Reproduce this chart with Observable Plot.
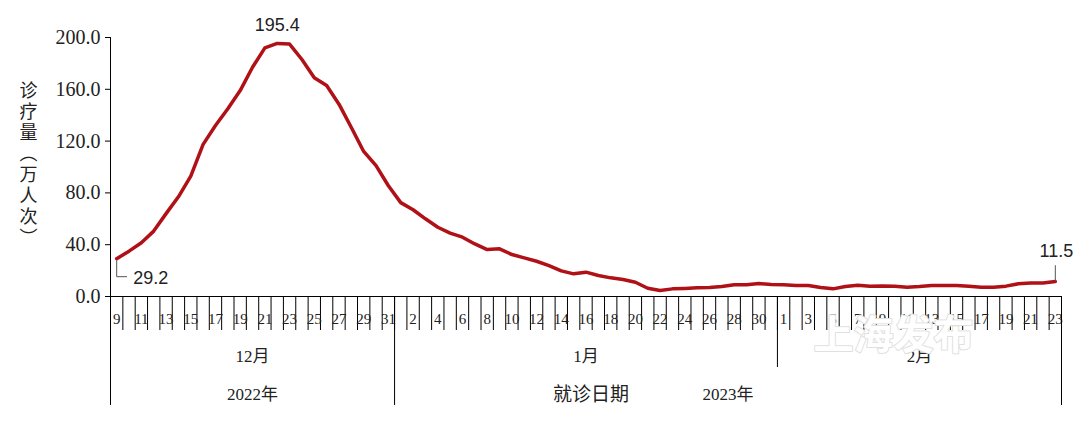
<!DOCTYPE html>
<html>
<head>
<meta charset="utf-8">
<script src="https://cdn.jsdelivr.net/npm/d3@7"></script>
<script src="https://cdn.jsdelivr.net/npm/@observablehq/plot@0.6"></script>
<style>
  html, body { margin: 0; padding: 0; background: #fff; }
  #chart { width: 1080px; height: 423px; }
</style>
</head>
<body>
<div id="chart"></div>
<script>
// ---- data ----
const days = [9,10,11,12,13,14,15,16,17,18,19,20,21,22,23,24,25,26,27,28,29,30,31,
  1,2,3,4,5,6,7,8,9,10,11,12,13,14,15,16,17,18,19,20,21,22,23,24,25,26,27,28,29,30,31,
  1,2,3,4,5,6,7,8,9,10,11,12,13,14,15,16,17,18,19,20,21,22,23];
const visits = [29.2,35.0,41.5,50.5,64.0,77.0,93.0,117.5,132.0,145.0,159.0,177.0,192.0,195.4,194.9,183.0,169.0,163.0,148.5,130.5,112.0,101.0,85.5,
  72.5,67.0,60.0,53.5,49.0,45.8,40.6,36.2,36.8,32.4,29.8,27.2,23.9,19.8,17.5,18.8,16.2,14.4,13.1,11.0,6.4,4.6,5.9,6.2,6.7,6.9,7.7,9.0,9.0,10.0,9.3,
  9.0,8.5,8.5,6.9,5.9,7.7,8.7,7.9,8.2,8.0,7.2,7.7,8.5,8.5,8.5,8.0,7.2,7.2,8.0,9.8,10.5,10.5,11.5];
const monthNames = ["12月", "1月", "2月"];
const monthLengths = [23, 31, 23];
const yearNames = ["2022年", "2023年"];
const yearMonthCounts = [1, 2];
const yTicks = [0, 40, 80, 120, 160, 200];
const yTitle = "诊疗量（万人次）";
const xTitle = "就诊日期";
const watermark = "上海发布";

// ---- derived ----
const N = visits.length;
const data = visits.map((v, i) => ({i, x: i + 0.5, v, day: days[i]}));
const monthEnds = d3.cumsum(monthLengths);                 // [23,54,77]
const monthStarts = [0, ...Array.from(monthEnds).slice(0, -1)];
const monthCenters = monthStarts.map((s, k) => s + monthLengths[k] / 2);
const yearMonthEnds = d3.cumsum(yearMonthCounts);           // [1,3]
const yearBounds = [0, ...Array.from(yearMonthEnds).map(m => monthEnds[m - 1])];
const yearCenters = yearNames.map((_, k) => (yearBounds[k] + yearBounds[k + 1]) / 2);
const monthDividers = Array.from(monthEnds).slice(0, -1).filter(b => !yearBounds.includes(b));
const dayBounds = d3.range(0, N + 1);
const dayLabelTicks = data.filter(d => d.i % 2 === 0).map(d => d.x);

const peakIdx = d3.maxIndex(visits);
const fmt = d3.format(".1f");
const first = [data[0]], peak = [data[peakIdx]], last = [data[N - 1]];

const elbow = {draw(ctx, l) { ctx.moveTo(0, -2); ctx.lineTo(0, -l); ctx.lineTo(-10, -l); }};
const stem = {draw(ctx, l) { ctx.moveTo(0, -1); ctx.lineTo(0, -l); }};

const serif = "'Liberation Serif', 'Times New Roman', 'Noto Sans CJK SC', serif";
const sans = "'Liberation Sans', 'Noto Sans CJK SC', sans-serif";
const ink = "#222";

const chart = Plot.plot({
  width: 1080,
  height: 423,
  marginLeft: 110,
  marginRight: 19,
  marginTop: 37,
  marginBottom: 127,
  style: {background: "#fff", color: ink},
  x: {type: "linear", domain: [0, N], axis: null},
  y: {domain: [0, 200], axis: null},
  marks: [
    // y axis
    Plot.axisY({ticks: yTicks, tickFormat: fmt, tickSize: 5, tickPadding: 5, fontSize: 20,
      fontFamily: serif, label: null, anchor: "left", stroke: "#000"}),
    Plot.ruleX([0], {stroke: "#000"}),
    Plot.ruleY([0], {stroke: "#000"}),
    // day separators
    Plot.axisX({ticks: dayBounds, tickSize: 34, tickFormat: () => "", label: null, stroke: "#000"}),
    // day labels
    Plot.axisX({ticks: dayLabelTicks, tickSize: 0, tickPadding: 17, label: null,
      tickFormat: d => days[Math.floor(d)], fontSize: 15, fontFamily: serif}),
    // month dividers
    Plot.axisX({ticks: monthDividers, tickSize: 71, tickFormat: () => "", label: null, stroke: "#000"}),
    // year dividers
    Plot.axisX({ticks: yearBounds, tickSize: 109, tickFormat: () => "", label: null, stroke: "#000"}),
    // month labels
    Plot.axisX({ticks: monthCenters, tickSize: 0, tickPadding: 53, label: null,
      tickFormat: d => monthNames[monthCenters.indexOf(d)], fontSize: 17, fontFamily: serif}),
    // year labels
    Plot.axisX({ticks: yearCenters, tickSize: 0, tickPadding: 91, label: null,
      tickFormat: d => yearNames[yearCenters.indexOf(d)], fontSize: 17, fontFamily: serif}),
    // axis titles
    Plot.text([xTitle], {frameAnchor: "bottom", dx: 5, dy: 104, fontSize: 19,
      fontFamily: "'Noto Sans CJK SC', sans-serif", fill: ink}),
    Plot.text([yTitle], {frameAnchor: "left", dx: -82, dy: -8, fontSize: 18,
      fontFamily: "'Noto Sans CJK SC', sans-serif", fill: ink, textAnchor: "middle"}),
    // series
    Plot.line(data, {x: "x", y: "v", stroke: "#b01116", strokeWidth: 3.5,
      strokeLinejoin: "round", strokeLinecap: "round"}),
    // leaders
    Plot.vector(first, {x: "x", y: "v", length: 18, rotate: 180, anchor: "start",
      shape: elbow, stroke: "#555", strokeWidth: 1, fill: "none"}),
    Plot.vector(last, {x: "x", y: "v", length: 16, rotate: 0, anchor: "start",
      shape: stem, stroke: "#555", strokeWidth: 1, fill: "none"}),
    // value labels
    Plot.text(peak, {x: "x", y: "v", text: d => fmt(d.v), dy: -18, fontSize: 18, fontFamily: sans, fill: ink}),
    Plot.text(first, {x: "x", y: "v", text: d => fmt(d.v), dx: 34, dy: 20, fontSize: 18, fontFamily: sans, fill: ink}),
    Plot.text(last, {x: "x", y: "v", text: d => fmt(d.v), dx: 1, dy: -30, fontSize: 18, fontFamily: sans, fill: ink}),
    // watermark
    Plot.text([watermark], {x: monthCenters[2], frameAnchor: "bottom", dx: -26, dy: 52,
      fontSize: 40, fontWeight: "bold", fontFamily: "'Noto Sans CJK SC', sans-serif",
      fill: "#fff", stroke: "#e0e0e0", strokeWidth: 2, paintOrder: "stroke"})
  ]
});
// vertical (upright) writing for the y-axis title
d3.select(chart).selectAll("text")
  .filter(function() { return this.textContent === yTitle; })
  .style("writing-mode", "vertical-rl")
  .style("text-orientation", "upright")
  .style("letter-spacing", "3px");
document.getElementById("chart").appendChild(chart);
</script>
</body>
</html>
